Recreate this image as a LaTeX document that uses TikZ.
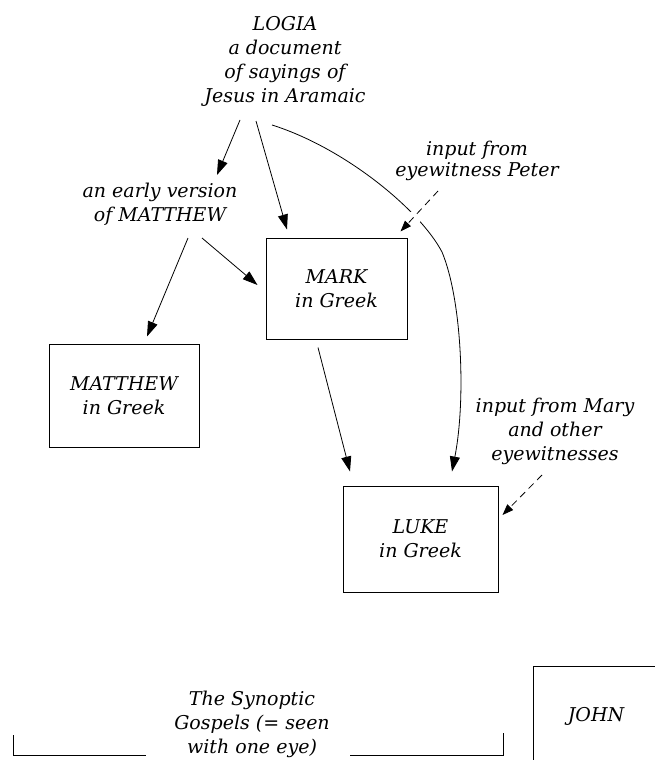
\documentclass[tikz,border=0pt]{standalone}
\usepackage{fontspec}
\setmainfont{DejaVu Serif}
\usetikzlibrary{arrows.meta,calc}
\tikzset{
  lbl/.style={font=\itshape\fontsize{19}{24}\selectfont, align=center, inner sep=0pt},
  gbox/.style={lbl, draw, line width=1pt},
  arr/.style={line width=0.8pt, -{Triangle[length=15pt,width=10pt]}},
  darr/.style={line width=0.8pt, dash pattern=on 7pt off 5pt, -{Triangle[length=11pt,width=8pt]}},
  bracket/.style={line width=0.9pt},
}
\begin{document}
\begin{tikzpicture}[x=1pt,y=-1pt]
\useasboundingbox (0,0) rectangle (654,760);
% text nodes
\node[lbl] (logia) at (285,61) {LOGIA\\a document\\of sayings of\\Jesus in Aramaic};
\node[lbl] (early) at (160,204) {an early version\\of MATTHEW};
\node[lbl, font=\itshape\fontsize{19}{21.5}\selectfont] (peter) at (477,161) {input from\\eyewitness Peter};
\node[lbl] (mary) at (555,431) {input from Mary\\and other\\eyewitnesses};
% boxes
\node[gbox, minimum width=150pt, minimum height=103pt] (matthew) at (124,395.5) {MATTHEW\\in Greek};
\node[gbox, minimum width=141pt, minimum height=101pt] (mark) at (336.5,288.5) {MARK\\in Greek};
\node[gbox, minimum width=155pt, minimum height=106pt] (luke) at (420.5,539) {LUKE\\in Greek};
% connectors
\draw[arr] ($(logia.center)+(-45,59)$) -- ($(early.center)+(57,-29)$);
\draw[arr] ($(logia.center)+(-29,60)$) -- ($(mark.north)+(-49.5,-8)$);
\draw[arr] ($(early.center)+(28,34)$) -- ($(matthew.north)+(23,-7)$);
\draw[arr] ($(early.center)+(42,34)$) -- ($(mark.west)+(-8,-3.5)$);
\draw[arr] ($(mark.south)+(-18.5,8)$) -- ($(luke.north)+(-70.5,-14)$);
\draw[arr] ($(logia.center)+(-13,64)$) .. controls (345,148) and (420,210) .. (442,252)
   .. controls (462,300) and (466,400) .. ($(luke.north)+(31.5,-14)$);
\fill[white] (414,218) circle (7pt);
\draw[darr] ($(peter.center)+(-39,30)$) -- ($(mark.north east)+(-7,-6)$);
\draw[darr] ($(mary.center)+(-13,44)$) -- ($(luke.east)+(4,-24)$);
% bottom
\node[lbl] (syn) at (252,724) {The Synoptic\\Gospels (= seen\\with one eye)};
\draw[bracket] (13,735) -- (13,755) -- (146,755);
\draw[bracket] (350,755) -- (503,755) -- (503,733);
\draw[line width=1pt] (660,666) -- (533,666) -- (533,770);
\node[lbl] (john) at (596,716) {JOHN};
\end{tikzpicture}
\end{document}
